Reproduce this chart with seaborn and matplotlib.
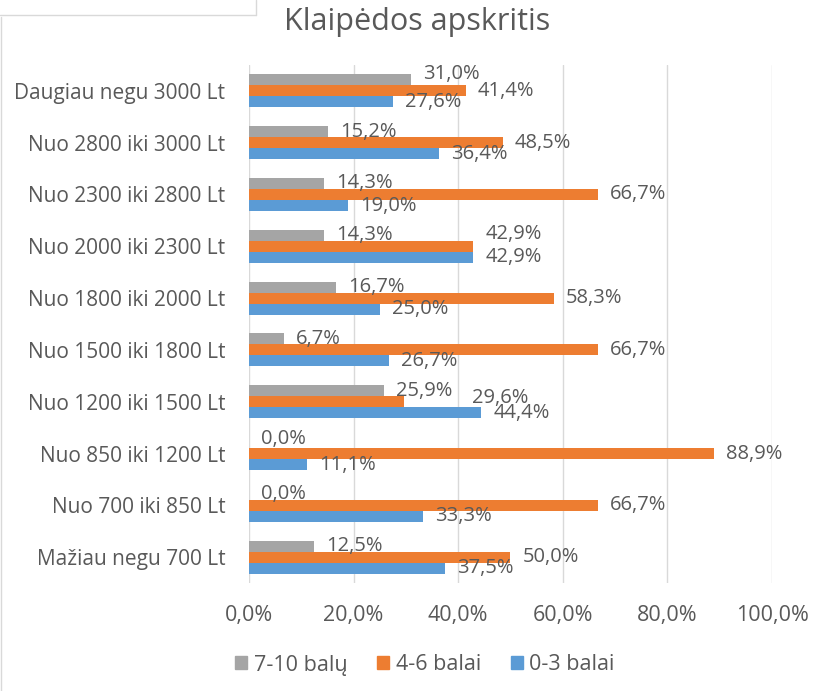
import matplotlib
matplotlib.use("Agg")
import matplotlib.pyplot as plt
import seaborn as sns
import pandas as pd
from matplotlib.patches import Patch
from matplotlib.lines import Line2D

categories = ["Daugiau negu 3000 Lt", "Nuo 2800 iki 3000 Lt", "Nuo 2300 iki 2800 Lt",
              "Nuo 2000 iki 2300 Lt", "Nuo 1800 iki 2000 Lt", "Nuo 1500 iki 1800 Lt",
              "Nuo 1200 iki 1500 Lt", "Nuo 850 iki 1200 Lt", "Nuo 700 iki 850 Lt",
              "Mažiau negu 700 Lt"]
series_names = ["7-10 balų", "4-6 balai", "0-3 balai"]
vals_7_10 = [31.0, 15.2, 14.3, 14.3, 16.7, 6.7, 25.9, 0.0, 0.0, 12.5]
vals_4_6 = [41.4, 48.5, 66.7, 42.9, 58.3, 66.7, 29.6, 88.9, 66.7, 50.0]
vals_0_3 = [27.6, 36.4, 19.0, 42.9, 25.0, 26.7, 44.4, 11.1, 33.3, 37.5]
x_ticks = [0, 20, 40, 60, 80, 100]
colors = ["#A5A5A5", "#ED7D31", "#5B9BD5"]
title = "Klaipėdos apskritis"

# label nudges in pixels (series index, category index) -> (dx, dy), dy positive = up
nudges = {(0, 0): (0, 6), (1, 3): (0, 12), (1, 6): (56, 4), (0, 7): (0, 3)}

rows = []
for name, vals in zip(series_names, [vals_7_10, vals_4_6, vals_0_3]):
    for c, v in zip(categories, vals):
        rows.append({"cat": c, "series": name, "val": v})
df = pd.DataFrame(rows)

sns.set_theme(style="white")
plt.rcParams['font.family'] = ['Open Sans', 'DejaVu Sans']
txt = "#595959"

fig = plt.figure(figsize=(8.27, 6.91), dpi=100)
ax = fig.add_axes([249/827, 1-583/691, (772-249)/827, (583-65)/691])
sns.barplot(data=df, x="val", y="cat", hue="series", order=categories,
            hue_order=series_names, palette=colors, orient="h", width=0.64,
            saturation=1, ax=ax, legend=False, errorbar=None, linewidth=0)

px = 0.72  # points per pixel at 100 dpi
for si, (cont, vals) in enumerate(zip(ax.containers, [vals_7_10, vals_4_6, vals_0_3])):
    for ci, (patch, v) in enumerate(zip(cont.patches, vals)):
        dx, dy = nudges.get((si, ci), (0, 0))
        xe = patch.get_x() + patch.get_width()
        yc = patch.get_y() + patch.get_height() / 2
        ax.annotate(f"{v:.1f}%".replace(".", ","), (xe, yc),
                    xytext=((12 + dx) * px, dy * px), textcoords="offset points",
                    ha="left", va="center", fontsize=14.5, color=txt,
                    annotation_clip=False)

ax.set_xlim(0, 100)
ax.set_xticks(x_ticks)
ax.set_xticklabels([f"{t:.1f}%".replace(".", ",") for t in x_ticks], fontsize=15.5, color=txt)
ax.tick_params(axis='y', labelsize=15, labelcolor=txt, length=0, pad=17)
ax.tick_params(axis='x', length=0, pad=16)
ax.set_xlabel("")
ax.set_ylabel("")
ax.grid(axis='x', color="#D9D9D9", linewidth=1)
ax.set_axisbelow(True)
for s in ax.spines.values():
    s.set_visible(False)

fig.text(417/827, 1-22/691, title, ha="center", va="center", fontsize=22, color=txt)

handles = [Patch(facecolor=c, edgecolor=c) for c in colors]
fig.legend(handles, series_names, loc="center", bbox_to_anchor=(425/827, 1-665/691),
           ncol=3, frameon=False, fontsize=15.5, labelcolor=txt,
           handlelength=0.55, handleheight=0.55, columnspacing=1.4, handletextpad=0.3)

# chart border lines
fig.add_artist(Line2D([0, 256/827], [1-15/691, 1-15/691], color="#D9D9D9", lw=1))
fig.add_artist(Line2D([256/827, 256/827], [1, 1-15/691], color="#D9D9D9", lw=1))
fig.add_artist(Line2D([1/827, 1/827], [0, 1-17/691], color="#D9D9D9", lw=1))

fig.savefig("out.png", dpi=100)
